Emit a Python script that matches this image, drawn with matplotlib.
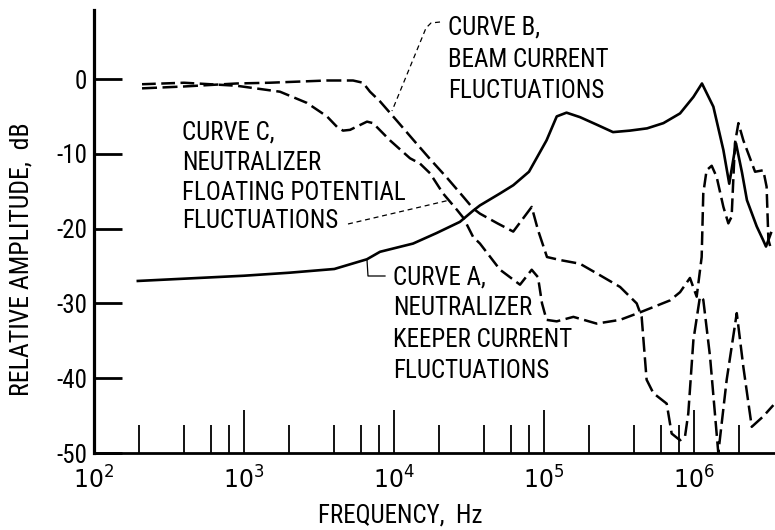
import matplotlib
matplotlib.use("Agg")
import matplotlib.pyplot as plt
from matplotlib.lines import Line2D
from matplotlib.ticker import NullLocator, FixedLocator, FixedFormatter
from matplotlib import font_manager as fm

# ---- pick a condensed sans font if one is installed ----
names = {f.name for f in fm.fontManager.ttflist}
chosen = 'DejaVu Sans'
for n in ['Roboto Condensed', 'Liberation Sans Narrow', 'Arial Narrow',
          'DejaVu Sans Condensed', 'Open Sans Condensed', 'Noto Sans Condensed']:
    if n in names:
        chosen = n
        break

plt.rcParams['font.family'] = [chosen, 'DejaVu Sans']
plt.rcParams['axes.unicode_minus'] = False
plt.rcParams['mathtext.fontset'] = 'dejavusans'

# ---------------- data ----------------
# Curve A: neutralizer keeper current fluctuations (solid)
freq_a = [196, 1000, 2000, 4000, 6600, 8070, 13400, 19200, 27500, 33700, 37400,
          50900, 62400, 79400, 104000, 121600, 141300, 173800, 224400, 288400,
          374100, 486400, 625200, 807200, 990800, 1130000, 1346000, 1570000,
          1718000, 1905000, 2089000, 2254000, 2618000, 2884000, 3020000, 3258000]
db_a = [-27.0, -26.3, -25.9, -25.4, -24.1, -23.1, -22.0, -20.6, -19.1, -17.6, -16.9,
        -15.3, -14.2, -12.4, -8.2, -5.0, -4.5, -5.1, -6.1, -7.1,
        -6.9, -6.6, -5.9, -4.6, -2.4, -0.6, -3.7, -9.5,
        -14.0, -8.6, -12.5, -16.2, -19.7, -21.5, -22.4, -20.6]

# Curve B: beam current fluctuations (dashed)
freq_b = [209, 398, 891, 1479, 3573, 5333, 6209, 6918, 8072, 10470, 13400, 17380,
          22540, 29110, 33650, 37410, 48980, 62370, 82800, 91200, 104700, 127900,
          173800, 225400, 321400, 415000, 447700, 483100, 535800, 657700, 709600,
          807200, 871000, 916200, 990800, 1096000, 1153000, 1279000, 1452000,
          1652000, 1928000, 2133000, 2427000, 2897000, 3381000]
db_b = [-1.25, -1.0, -0.6, -0.5, -0.2, -0.2, -0.5, -1.7, -3.0, -5.6, -8.1, -10.7,
        -13.2, -15.8, -17.3, -18.0, -19.3, -20.4, -17.1, -20.2, -23.8, -24.2,
        -24.7, -26.0, -27.8, -30.0, -31.8, -40.2, -42.0, -43.4, -47.4,
        -48.3, -47.8, -44.7, -34.9, -29.1, -29.5, -37.1, -50.0,
        -40.2, -31.3, -38.5, -46.5, -45.1, -43.6]

# Curve C: neutralizer floating potential fluctuations (dashed)
freq_c = [209, 398, 891, 1738, 2630, 3573, 4169, 4571, 5093, 6607, 7244, 9397,
          12790, 14890, 17380, 21230, 26300, 29110, 33650, 37410, 50930, 69180,
          82800, 91200, 97000, 104000, 121600, 157000, 224400, 321400, 436500,
          691800, 807200, 939700, 1042000, 1125000, 1153000, 1213000, 1312000,
          1416000, 1570000, 1694000, 1782000, 1875000, 1977000, 2133000, 2553000,
          2897000, 3048000, 3133000, 3236000]
db_c = [-0.7, -0.5, -0.9, -1.7, -3.2, -5.0, -6.4, -6.9, -6.8, -5.7, -5.9, -8.2,
        -10.6, -11.3, -12.6, -15.3, -17.5, -18.6, -21.1, -22.0, -25.5, -27.5,
        -25.5, -26.5, -30.0, -32.2, -32.4, -31.8, -32.7, -32.2, -31.2,
        -29.6, -28.5, -26.6, -29.1, -23.8, -15.3, -12.2, -11.6,
        -13.1, -17.1, -19.3, -18.4, -8.6, -5.9, -8.2, -12.4,
        -12.2, -14.4, -21.5, -22.5]

# frequency grid marks along the bottom axis
grid_short = [200, 400, 600, 800, 2000, 4000, 6000, 8000, 20000, 40000, 60000,
              80000, 200000, 400000, 600000, 800000, 2000000]
grid_tall = [1000, 10000, 100000, 1000000]

y_ticks = [0, -10, -20, -30, -40, -50]
x_ticks = [100, 1000, 10000, 100000, 1000000]
x_tick_labels = [r'$\mathit{10^{2}}$', r'$\mathit{10^{3}}$', r'$\mathit{10^{4}}$',
                 r'$\mathit{10^{5}}$', r'$\mathit{10^{6}}$']

# ---------------- figure ----------------
W, H = 775, 530
fig = plt.figure(figsize=(W / 100, H / 100), dpi=100)
fig.patch.set_facecolor('white')


def fx(x):
    return x / W


def fy(y):
    return 1 - y / H


ax = fig.add_axes([fx(94), fy(453), (775 - 94) / W, (453 - 10) / H])
ax.set_xscale('log')
ax.set_xlim(100, 10 ** (2 + (775 - 94) / 150))
ax.set_ylim(-50, (79 - 10) / 7.48)

for s in ('top', 'right'):
    ax.spines[s].set_visible(False)
ax.spines['left'].set_linewidth(2.3)
ax.spines['bottom'].set_linewidth(2.0)

ax.plot(freq_a, db_a, color='black', lw=1.9, solid_joinstyle='round')
ax.plot(freq_b, db_b, color='black', lw=1.8, dashes=(6, 2.2))
ax.plot(freq_c, db_c, color='black', lw=1.8, dashes=(5.5, 2.2))

ax.vlines(grid_short, -50, -46.2, color='black', lw=1.3)
ax.vlines(grid_tall, -50, -44.2, color='black', lw=1.3)

ax.set_yticks(y_ticks)
ax.set_yticklabels([str(v) for v in y_ticks])
ax.tick_params(axis='y', direction='in', length=20, width=2.0, pad=5,
               labelsize=18)
ax.xaxis.set_major_locator(FixedLocator(x_ticks))
ax.xaxis.set_major_formatter(FixedFormatter(x_tick_labels))
ax.xaxis.set_minor_locator(NullLocator())
ax.tick_params(axis='x', length=0, pad=10, labelsize=17)

fig.text(fx(400), fy(523), 'FREQUENCY,  Hz', ha='center', va='baseline', fontsize=18)
fig.text(fx(22), fy(259), 'RELATIVE AMPLITUDE,  dB', ha='center', va='center',
         rotation=90, fontsize=18.5)


def block(x, baselines, lines):
    for yb, t in zip(baselines, lines):
        fig.text(fx(x), fy(yb), t, ha='left', va='baseline', fontsize=18)


block(448, [35, 67, 98], ['CURVE B,', 'BEAM CURRENT', 'FLUCTUATIONS'])
block(182, [140, 170, 200, 228], ['CURVE C,', 'NEUTRALIZER', 'FLOATING POTENTIAL',
                                  'FLUCTUATIONS'])
block(393, [285, 315, 347, 378], ['CURVE A,', 'NEUTRALIZER', 'KEEPER CURRENT',
                                  'FLUCTUATIONS'])


def leader(pts, **kw):
    xs = [fx(p[0]) for p in pts]
    ys = [fy(p[1]) for p in pts]
    fig.add_artist(Line2D(xs, ys, transform=fig.transFigure, color='black', **kw))


leader([(440, 22), (431, 23), (426, 28), (392, 111)], lw=0.9, dashes=(4, 3))
leader([(348, 224), (450, 200)], lw=0.9, dashes=(4, 3))
leader([(367, 260), (368, 276), (385, 276)], lw=0.9)

fig.savefig('out.png', dpi=100, facecolor='white')
